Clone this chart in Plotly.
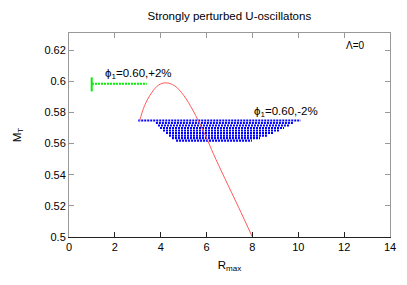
import plotly.graph_objects as go

# Red curve (phi1=0.60, -2% trajectory path)
red_R = [3.07, 3.3, 3.6, 3.9, 4.22, 4.6, 5.0, 5.4, 5.64, 6.0, 6.29, 6.8, 7.4, 7.99]
red_M = [0.574, 0.5845, 0.5925, 0.5975, 0.599, 0.5972, 0.591, 0.5815, 0.5746, 0.5636, 0.5537, 0.5375, 0.519, 0.5002]

# Blue cluster rows (phi1=0.60, -2%): M value, left R, right R
blue_M = [0.5748, 0.5732, 0.5716, 0.5700, 0.5684, 0.5668, 0.5651, 0.5635, 0.5619]
blue_Rl = [3.02, 3.79, 3.88, 3.97, 4.10, 4.23, 4.36, 4.49, 4.67]
blue_Rr = [10.1, 9.77, 9.64, 9.38, 9.20, 8.94, 8.68, 8.33, 7.98]

# Green (phi1=0.60, +2%)
green_vR = [0.99, 0.99]
green_vM = [0.5935, 0.6025]
green_hR = [1.0, 3.39]
green_hM = [0.5984, 0.5984]

x_ticks = [0, 2, 4, 6, 8, 10, 12, 14]
y_ticks = [0.5, 0.52, 0.54, 0.56, 0.58, 0.6, 0.62]
y_tick_text = ["0.5", "0.52", "0.54", "0.56", "0.58", "0.6", "0.62"]

bx, by = [], []
for m, l, r in zip(blue_M, blue_Rl, blue_Rr):
    bx += [l, r, None]
    by += [m, m, None]

fig = go.Figure()
fig.add_trace(go.Scatter(x=bx, y=by, mode="lines",
                         line=dict(color="#0000ff", width=2.2, dash="2px,1px"),
                         showlegend=False))
fig.add_trace(go.Scatter(x=red_R, y=red_M, mode="lines", line_shape="spline",
                         line=dict(color="#ff5a5a", width=1), showlegend=False))
fig.add_trace(go.Scatter(x=green_hR, y=green_hM, mode="lines",
                         line=dict(color="#00ee00", width=2, dash="2px,1px"),
                         showlegend=False))
fig.add_trace(go.Scatter(x=green_vR, y=green_vM, mode="lines",
                         line=dict(color="#00ee00", width=2),
                         showlegend=False))
# top axis
fig.add_trace(go.Scatter(x=[None], y=[None], xaxis="x2", showlegend=False))

font = dict(family="Liberation Sans, Arial, sans-serif", size=11, color="#000")

fig.update_layout(
    width=407, height=285,
    margin=dict(l=69, r=17, t=33, b=48),
    paper_bgcolor="white", plot_bgcolor="white",
    font=font,
    title=dict(text="Strongly perturbed U-oscillatons", x=0.5635, xanchor="center",
               y=0.945, yanchor="middle", font=dict(size=11.5)),
    xaxis=dict(range=[0, 14], tickvals=x_ticks, ticks="inside", ticklen=5,
               showline=True, linecolor="#222", linewidth=1, tickcolor="#222",
               showgrid=False, zeroline=False, mirror=False,
               title=dict(text="R<sub>max</sub>", standoff=8, font=dict(size=11.5))),
    xaxis2=dict(range=[0, 14], tickvals=x_ticks, ticks="inside", ticklen=5,
                overlaying="x", side="top", showticklabels=False,
                showline=True, linecolor="#999", tickcolor="#999",
                showgrid=False, zeroline=False),
    yaxis=dict(range=[0.5, 0.631], tickvals=y_ticks, ticktext=y_tick_text,
               ticks="inside", ticklen=5, showline=True, linecolor="#999",
               tickcolor="#999", mirror="ticks", showgrid=False, zeroline=False,
               title=dict(text="M<sub>T</sub>", standoff=20, font=dict(size=11.5))),
    annotations=[
        dict(x=1.48, y=0.6045, text="ϕ<sub>1</sub>=0.60,+2%", showarrow=False,
             xanchor="left", yanchor="middle", font=dict(size=11.5)),
        dict(x=7.98, y=0.5805, text="ϕ<sub>1</sub>=0.60,-2%", showarrow=False,
             xanchor="left", yanchor="middle", font=dict(size=11.5)),
        dict(x=12.0, y=0.6232, text="Λ=0", showarrow=False,
             xanchor="left", yanchor="middle", font=dict(size=10)),
    ],
)

fig.write_html("out.html", config={"displayModeBar": False},
               post_script="document.body.style.margin='0';document.body.style.overflow='hidden';")
